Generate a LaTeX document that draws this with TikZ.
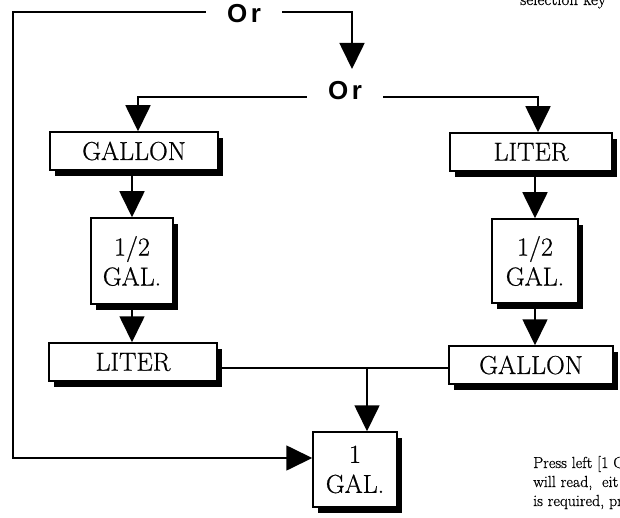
\documentclass[tikz,border=0pt]{standalone}
\usepackage{fontspec}
\newfontfamily\orfont{Liberation Sans}
\newfontfamily\boxfont{Latin Modern Roman}[FakeBold=0.6]
\usetikzlibrary{arrows.meta,shadows}
\begin{document}
\begin{tikzpicture}[x=1pt,y=-1pt,
  conn/.style={line width=1.7pt},
  arr/.style={conn,-{Triangle[width=25pt,length=26pt]}},
  unitbox/.style={draw,line width=1.5pt,fill=white,inner sep=0pt,align=center,
    font=\boxfont\fontsize{26}{30}\selectfont,
    drop shadow={shadow xshift=4.5pt,shadow yshift=-6pt,fill=black,opacity=1}},
  orlabel/.style={font=\orfont\bfseries\fontsize{26}{28}\selectfont,inner xsep=21pt,inner ysep=0pt},
  side/.style={anchor=base west,inner sep=0pt,font=\boxfont\fontsize{16}{19}\selectfont}]
\useasboundingbox (0,0) rectangle (620,518);
\clip (0,0) rectangle (620,518);

% labels "Or"
\node[orlabel] (orA) at (244,13.5) {O\hspace{3.5pt}r};
\node[orlabel] (orB) at (345,90.5) {O\hspace{3.5pt}r};

% boxes
\node[unitbox,minimum width=168pt,minimum height=38pt] (gl) at (134,151) {GALLON};
\node[unitbox,minimum width=162pt,minimum height=38pt] (lr) at (531,152) {LITER};
\node[unitbox,minimum width=82pt,minimum height=86pt] (hl) at (132,261) {1/2\\GAL.};
\node[unitbox,minimum width=86pt,minimum height=84pt] (hr) at (535,261) {1/2\\GAL.};
\node[unitbox,minimum width=168pt,minimum height=38pt] (ll) at (133,362) {LITER};
\node[unitbox,minimum width=164pt,minimum height=38pt] (gr) at (531,365) {GALLON};
\node[unitbox,minimum width=84pt,minimum height=75pt] (one) at (355,469.5) {1\\GAL.};

% helper coordinates
\coordinate (c1) at (13,12);
\coordinate (c2) at (13,458);
\coordinate (c3) at (352,12);
\coordinate (t1) at (352,69);
\coordinate (c4) at (138,97);
\coordinate (c5) at (538,97);
\coordinate (j) at (367,368);

% connectors
\draw[arr] (orA.west |- c1) -- (c1) -- (c2) -- (c2 -| one.west);
\draw[arr] (orA.east |- c3) -- (c3) -- (t1);
\draw[arr] (orB.west |- c4) -- (c4) -- (c4 |- gl.north);
\draw[arr] (orB.east |- c5) -- (c5) -- (c5 |- lr.north);
\draw[arr] (gl.south -| hl.north) -- (hl.north);
\draw[arr] (lr.south -| hr.north) -- (hr.north);
\draw[arr] (hl.south) -- (hl.south |- ll.north);
\draw[arr] (hr.south) -- (hr.south |- gr.north);
\draw[conn] (j -| ll.east) -- (j -| gr.west);
\draw[arr] (j) -- (j |- one.north);

% cut-off page text
\node[side,font=\boxfont\fontsize{17}{19}\selectfont] (s0) at (520,5) {selection key};
\node[side] (s1) at (533,468) {Press left [1 G};
\node[side] (s2) at (533,487) {will read,\ \ eit};
\node[side] (s3) at (533,506) {is required, pr};
\end{tikzpicture}
\end{document}
